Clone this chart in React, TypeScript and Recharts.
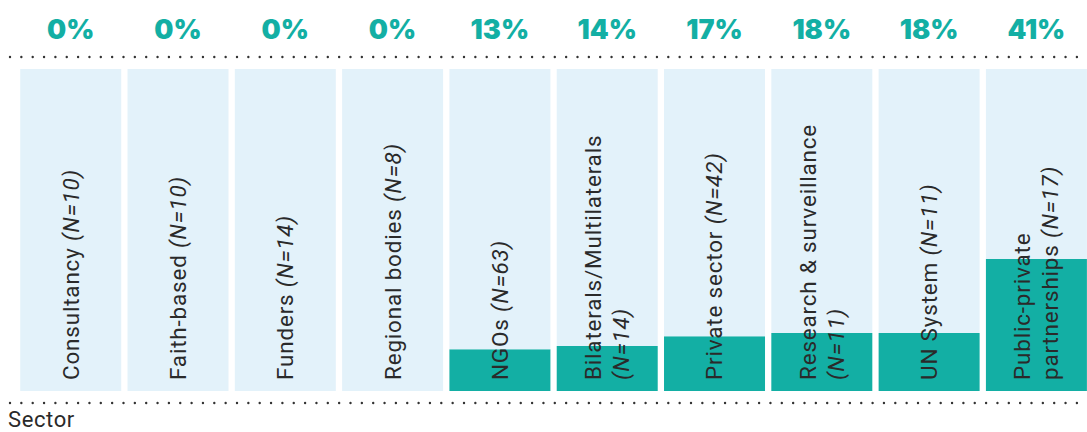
import { Bar, BarChart, XAxis, YAxis } from "recharts";

// sector names, split into the lines they are wrapped onto inside the bars
const sectorLines: string[][] = [
  ["Consultancy"],
  ["Faith-based"],
  ["Funders"],
  ["Regional bodies"],
  ["NGOs"],
  ["Bilaterals/Multilaterals", ""],
  ["Private sector"],
  ["Research & surveillance", ""],
  ["UN System"],
  ["Public-private", "partnerships"],
];
const sampleSizes = [10, 10, 14, 8, 63, 14, 42, 11, 11, 17];
const shares = [0, 0, 0, 0, 13, 14, 17, 18, 18, 41];

// teal share stacked under the pale remainder up to 100%
const data = sectorLines.map((lines, i) => ({
  name: lines.filter(Boolean).join(" "),
  share: shares[i],
  rest: 100 - shares[i],
}));

const TEAL = "#13AFA4";
const PALE = "#E3F2FA";
const INK = "#2a2a2a";

// percentages sit above the bars, on a top category axis
const PercentTick = (props: any) => {
  const { x, y, payload } = props;
  return (
    <text
      x={x}
      y={Number(y) - 30}
      textAnchor="middle"
      fill={TEAL}
      fontFamily="Inter, sans-serif"
      fontWeight={900}
      fontSize={27}
    >
      {shares[payload.index]}%
    </text>
  );
};

// sector names run upward inside each bar, from its foot
const SectorTick = (props: any) => {
  const { x, y, payload } = props;
  const index = payload.index;
  const lines = sectorLines[index];
  const n = `(N=${sampleSizes[index]})`;
  const lineH = 28;
  const first = -((lines.length - 1) * lineH) / 2;
  return (
    <text
      transform={`translate(${x},${Number(y) - 11}) rotate(-90)`}
      textAnchor="start"
      dominantBaseline="central"
      fill={INK}
      fontFamily="Roboto, sans-serif"
      fontSize={22.5}
      letterSpacing={0.8}
    >
      {lines.map((line, i) => {
        const last = i === lines.length - 1;
        return (
          <tspan key={i} x={0} y={first + i * lineH}>
            {line}
            {last ? (line ? " " : "") : null}
            {last ? <tspan fontStyle="italic">{n}</tspan> : null}
          </tspan>
        );
      })}
    </text>
  );
};

const DottedLine = ({ y }: { y: number }) => (
  <line
    x1={10}
    x2={1080}
    y1={y}
    y2={y}
    stroke="#333"
    strokeWidth={2.4}
    strokeLinecap="round"
    strokeDasharray="0 11.35"
  />
);

export default function App() {
  return (
    <div
      style={{
        position: "fixed",
        left: 0,
        top: 0,
        width: 1087,
        height: 432,
        overflow: "hidden",
        background: "#fff",
      }}
    >
      <svg
        width={1087}
        height={432}
        style={{ position: "absolute", left: 0, top: 0 }}
      >
        <DottedLine y={57} />
        <DottedLine y={403} />
        <text
          x={8}
          y={427}
          fill={INK}
          fontFamily="Roboto, sans-serif"
          fontSize={22}
          letterSpacing={0.6}
        >
          Sector
        </text>
      </svg>
      <div style={{ position: "absolute", left: 0, top: 0 }}>
        <BarChart
          width={1100}
          height={432}
          data={data}
          margin={{ top: 68, right: 10, bottom: 40, left: 17 }}
          barCategoryGap="3%"
        >
          <XAxis
            dataKey="name"
            height={1}
            axisLine={false}
            tickLine={false}
            tickSize={0}
            tickMargin={0}
            interval={0}
            tick={<SectorTick />}
          />
          <XAxis
            xAxisId="top"
            dataKey="name"
            orientation="top"
            height={1}
            axisLine={false}
            tickLine={false}
            tickSize={0}
            tickMargin={0}
            interval={0}
            tick={<PercentTick />}
          />
          <YAxis domain={[0, 100]} hide />
          <Bar
            dataKey="share"
            stackId="s"
            fill={TEAL}
            isAnimationActive={false}
          />
          <Bar
            dataKey="rest"
            stackId="s"
            fill={PALE}
            isAnimationActive={false}
          />
        </BarChart>
      </div>
    </div>
  );
}
